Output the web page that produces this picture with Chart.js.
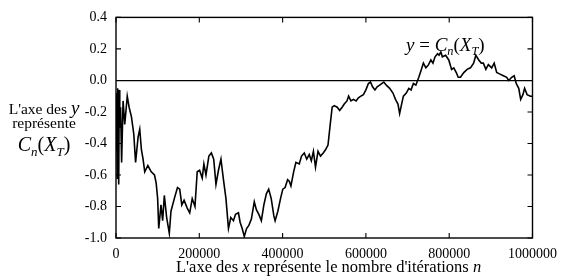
<!DOCTYPE html>
<html>
<head>
<meta charset="utf-8">
<script src="https://cdn.jsdelivr.net/npm/chart.js@4/dist/chart.umd.min.js"></script>
<style>
  body { margin: 0; background: #fff; }
  .wrap { position: relative; width: 565px; height: 277px; font-family: "Liberation Serif", "DejaVu Serif", serif; color: #000; }
  canvas { position: absolute; left: 0; top: 0; }
  .lbl { position: absolute; white-space: nowrap; line-height: 1; }
  .ylabel { left: 0; width: 88px; text-align: center; font-size: 15.5px; }
  .math { font-style: italic; }
  sub { font-size: 0.65em; vertical-align: -0.35em; line-height: 0; }
</style>
</head>
<body>
<div class="wrap">
  <canvas id="chart" width="565" height="277"></canvas>
  <div class="lbl ylabel" style="top:98px">L'axe des <span class="math" style="font-size:19px">y</span></div>
  <div class="lbl ylabel" style="top:115px">représente</div>
  <div class="lbl ylabel" style="top:134px;font-size:20px"><span class="math">C</span><sub class="math">n</sub>(<span class="math">X</span><sub class="math">T</sub>)</div>
  <div class="lbl" style="left:406px;top:35px;font-size:19px"><span class="math">y</span>&nbsp;=&nbsp;<span class="math">C</span><sub class="math">n</sub>(<span class="math">X</span><sub class="math">T</sub>)</div>
  <div class="lbl" style="left:176px;top:259px;font-size:16.5px">L'axe des <span class="math">x</span> représente le nombre d'itérations <span class="math">n</span></div>
</div>
<script>
// iterations n (in thousands) and the value C_n(X_T)
const iterK = [
  0, 1, 2, 3, 4, 5, 6, 7, 7.8, 9, 11, 13.5, 17, 21, 27, 31.5, 37, 42.7, 47, 53,
  57, 61, 65, 69, 76.5, 84.6, 92.4, 96.4, 100, 102.6, 108, 112, 116, 121.6, 128, 132, 140, 147.6, 153, 158,
  163.5, 171, 177, 183, 189.6, 195, 200.7, 207, 211, 216, 223, 229, 234.6, 240, 246, 252, 258, 264, 270, 275.6,
  282, 287, 294, 298, 303, 308, 313.5, 319, 325, 332, 337, 343, 349, 355, 361, 366.6, 372.7, 379, 382, 388.6,
  395, 400.5, 406, 412, 416, 420, 426.5, 432, 440, 445.5, 452, 458, 464, 469, 474, 479, 485, 491, 497.6, 503,
  509, 513.5, 519, 524, 531, 537, 543, 548, 554.5, 558.5, 564, 570, 576.5, 582, 588, 594, 600, 606, 611, 616,
  621.6, 627, 633, 643, 649, 657, 665, 671, 677, 681, 685, 690, 697, 703, 708.5, 714, 720, 727, 732, 738,
  744, 750.5, 756, 761, 766, 772, 775.6, 780, 783.6, 791.5, 799, 805.7, 811, 817, 821.6, 827, 835, 843, 851, 858.6,
  864, 871, 877, 882, 888, 894, 902, 908, 914, 922, 930, 938, 943, 950, 956, 961, 967, 971.6, 977, 981,
  987, 995, 1000
];
const cnValues = [
  -0.08, -0.45, -0.10, -0.62, -0.05, -0.40, -0.20, -0.66, -0.06, -0.30, -0.17, -0.52, -0.13, -0.28, -0.10, -0.17, -0.23, -0.34, -0.52, -0.36,
  -0.31, -0.44, -0.50, -0.58, -0.54, -0.58, -0.60, -0.65, -0.75, -0.94, -0.79, -0.89, -0.73, -0.87, -0.97, -0.83, -0.75, -0.68, -0.69, -0.79,
  -0.76, -0.81, -0.84, -0.75, -0.80, -0.58, -0.57, -0.62, -0.53, -0.60, -0.48, -0.46, -0.50, -0.66, -0.57, -0.50, -0.63, -0.75, -0.94, -0.87,
  -0.89, -0.85, -0.84, -0.90, -0.94, -0.99, -0.94, -0.92, -0.88, -0.77, -0.82, -0.85, -0.89, -0.79, -0.72, -0.69, -0.75, -0.86, -0.89, -0.83,
  -0.75, -0.69, -0.68, -0.63, -0.64, -0.67, -0.58, -0.52, -0.53, -0.48, -0.46, -0.50, -0.47, -0.51, -0.45, -0.55, -0.45, -0.48, -0.46, -0.44,
  -0.41, -0.30, -0.17, -0.16, -0.17, -0.19, -0.17, -0.15, -0.13, -0.10, -0.13, -0.12, -0.13, -0.11, -0.10, -0.09, -0.06, -0.02, -0.01, -0.04,
  -0.06, -0.04, -0.03, -0.01, -0.03, -0.05, -0.08, -0.12, -0.15, -0.21, -0.16, -0.10, -0.08, -0.05, -0.06, -0.02, -0.03, 0.02, 0.06, 0.11,
  0.08, 0.10, 0.13, 0.11, 0.15, 0.17, 0.16, 0.18, 0.15, 0.16, 0.13, 0.07, 0.08, 0.05, 0.02, 0.02, 0.05, 0.07, 0.08, 0.11,
  0.16, 0.13, 0.11, 0.11, 0.07, 0.10, 0.08, 0.11, 0.05, 0.04, 0.03, 0.02, 0.00, 0.02, 0.03, -0.02, -0.05, -0.12, -0.09, -0.05,
  -0.09, -0.10, -0.10
];
const xTicks = [0, 200000, 400000, 600000, 800000, 1000000];
const yTicks = [-1.0, -0.8, -0.6, -0.4, -0.2, 0.0, 0.2, 0.4];

const points = iterK.map((k, i) => ({ x: k * 1000, y: cnValues[i] }));

// frame around the plot plus short inward tick marks on all four sides
const framePlugin = {
  id: "frame",
  afterDatasetsDraw(chart) {
    const { ctx, chartArea: a, scales } = chart;
    ctx.save();
    ctx.strokeStyle = "#000";
    ctx.lineWidth = 1.4;
    ctx.strokeRect(a.left, a.top, a.right - a.left, a.bottom - a.top);
    ctx.lineWidth = 1.1;
    ctx.beginPath();
    xTicks.forEach((v) => {
      const px = scales.x.getPixelForValue(v);
      ctx.moveTo(px, a.bottom); ctx.lineTo(px, a.bottom - 5);
      ctx.moveTo(px, a.top); ctx.lineTo(px, a.top + 5);
    });
    yTicks.forEach((v) => {
      const py = scales.y.getPixelForValue(v);
      ctx.moveTo(a.left, py); ctx.lineTo(a.left + 5, py);
      ctx.moveTo(a.right, py); ctx.lineTo(a.right - 5, py);
    });
    ctx.stroke();
    ctx.restore();
  },
};

new Chart(document.getElementById("chart").getContext("2d"), {
  type: "line",
  data: {
    datasets: [
      {
        data: points,
        borderColor: "#000",
        borderWidth: 1.6,
        pointRadius: 0,
        tension: 0,
        fill: false,
      },
    ],
  },
  options: {
    responsive: false,
    animation: false,
    events: [],
    layout: { padding: { top: 11, right: 27, left: 0, bottom: 0 } },
    plugins: { legend: { display: false }, tooltip: { enabled: false } },
    scales: {
      x: {
        type: "linear",
        min: 0,
        max: 1000000,
        afterBuildTicks: (s) => { s.ticks = xTicks.map((v) => ({ value: v })); },
        afterFit: (s) => { s.height = 39; },
        grid: { display: false, drawTicks: false },
        border: { display: false },
        ticks: {
          padding: 8,
          maxRotation: 0,
          color: "#000",
          font: { family: "Liberation Serif", size: 14 },
          callback: (v) => String(v),
        },
      },
      y: {
        min: -1.0,
        max: 0.4,
        afterBuildTicks: (s) => { s.ticks = yTicks.map((v) => ({ value: v })); },
        afterFit: (s) => { s.width = 116; },
        grid: {
          drawTicks: false,
          lineWidth: 1.3,
          color: (c) => (c.tick && Math.abs(c.tick.value) < 1e-9 ? "#000" : "rgba(0,0,0,0)"),
        },
        border: { display: false },
        ticks: {
          padding: 9,
          color: "#000",
          font: { family: "Liberation Serif", size: 14 },
          callback: (v) => Number(v).toFixed(1),
        },
      },
    },
  },
  plugins: [framePlugin],
});
</script>
</body>
</html>
